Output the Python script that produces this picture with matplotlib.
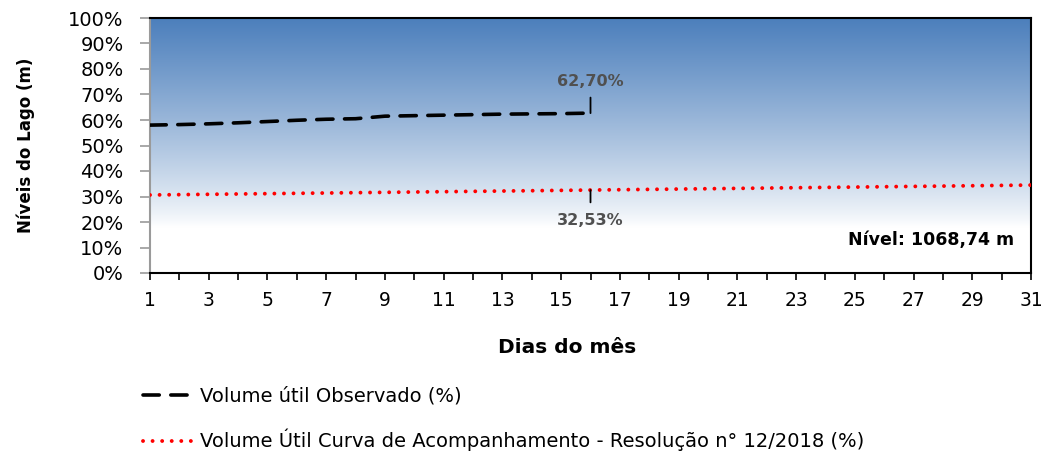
import matplotlib
matplotlib.use('Agg')
import matplotlib.pyplot as plt
from matplotlib.lines import Line2D
import numpy as np

# dias do mes
dias = list(range(1, 32))
dias_obs = list(range(1, 17))

# volume util observado (%)
obs = [58.0, 58.2, 58.5, 58.9, 59.4, 59.9, 60.3, 60.5,
       61.5, 61.7, 61.9, 62.1, 62.3, 62.4, 62.5, 62.70]

# curva de acompanhamento (%)
curva = [30.60, 30.73, 30.86, 30.99, 31.12, 31.25, 31.37, 31.50,
         31.63, 31.76, 31.89, 32.02, 32.15, 32.27, 32.40, 32.53,
         32.66, 32.79, 32.92, 33.05, 33.18, 33.31, 33.44, 33.57,
         33.70, 33.83, 33.96, 34.09, 34.22, 34.35, 34.48]

y_ticks = list(range(0, 101, 10))
y_labels = [f'{v}%' for v in y_ticks]
x_labels = [str(d) if d % 2 == 1 else '' for d in dias]

nome_obs = 'Volume útil Observado (%)'
nome_curva = 'Volume Útil Curva de Acompanhamento - Resolução n° 12/2018 (%)'
nivel = 'Nível: 1068,74 m'

fig = plt.figure(figsize=(10.46, 4.54), dpi=100)
ax = fig.add_axes([150/1046, 1 - 273/454, 881/1046, 255/454])

# fundo em degrade azul -> branco
top = np.array([76, 127, 188]) / 255
yy = np.linspace(0, 100, 256)
t = np.clip((yy - 18) / 82, 0, 1) ** 0.85
grad = (1 - t[:, None]) * 1.0 + t[:, None] * top
img = np.repeat(grad[:, None, :], 2, axis=1)
ax.imshow(img, extent=[1, 31, 0, 100], origin='lower', aspect='auto', zorder=0)

ax.plot(dias_obs, obs, color='black', lw=2.6, linestyle=(0, (4.5, 3.2)),
        dash_capstyle='round', zorder=3)
ax.plot(dias, curva, color='red', lw=2.8, linestyle=(0, (0.01, 2.45)),
        dash_capstyle='round', zorder=3)

ax.set_xlim(1, 31)
ax.set_ylim(0, 100)
ax.set_xticks(dias)
ax.set_xticklabels(x_labels, fontsize=13.5)
ax.set_yticks(y_ticks)
ax.set_yticklabels(y_labels, fontsize=14)
ax.tick_params(axis='x', direction='out', length=5, width=1.2, color='black', pad=8)
ax.tick_params(axis='y', direction='out', length=7, width=1.2, color='#9a9a9a', pad=12)

for s in ['top', 'right', 'bottom']:
    ax.spines[s].set_color('black')
    ax.spines[s].set_linewidth(1.5)
ax.spines['left'].set_color('#9a9a9a')
ax.spines['left'].set_linewidth(1.5)

ax.set_xlabel('Dias do mês', fontsize=14.5, fontweight='bold', labelpad=20,
              x=(567 - 150) / 881)
ax.set_ylabel('Níveis do Lago (m)', fontsize=12, fontweight='bold', labelpad=24)

# rotulos dos valores
ax.annotate('62,70%', xy=(16, obs[-1]), xytext=(16, 75), ha='center', va='center',
            fontsize=11.5, fontweight='bold', color='#505050',
            arrowprops=dict(arrowstyle='-', color='black', lw=1.3, shrinkA=4, shrinkB=0))
ax.annotate('32,53%', xy=(16, curva[15]), xytext=(16, 20.4), ha='center', va='center',
            fontsize=11.5, fontweight='bold', color='#505050',
            arrowprops=dict(arrowstyle='-', color='black', lw=1.3, shrinkA=6, shrinkB=0))

ax.text(0.981, 0.13, nivel, transform=ax.transAxes, ha='right', va='center',
        fontsize=12.5, fontweight='bold', color='black')

handles = [Line2D([], [], color='black', lw=2.6, linestyle=(0, (4.5, 3.2)), dash_capstyle='round'),
           Line2D([], [], color='red', lw=2.8, linestyle=(0, (0.01, 2.45)), dash_capstyle='round')]
fig.legend(handles, [nome_obs, nome_curva], loc='upper left',
           bbox_to_anchor=(125/1046, 1 - 369/454), frameon=False, fontsize=14,
           handlelength=2.8, handletextpad=0.15, labelspacing=1.2)

fig.savefig('out.png', dpi=100)
